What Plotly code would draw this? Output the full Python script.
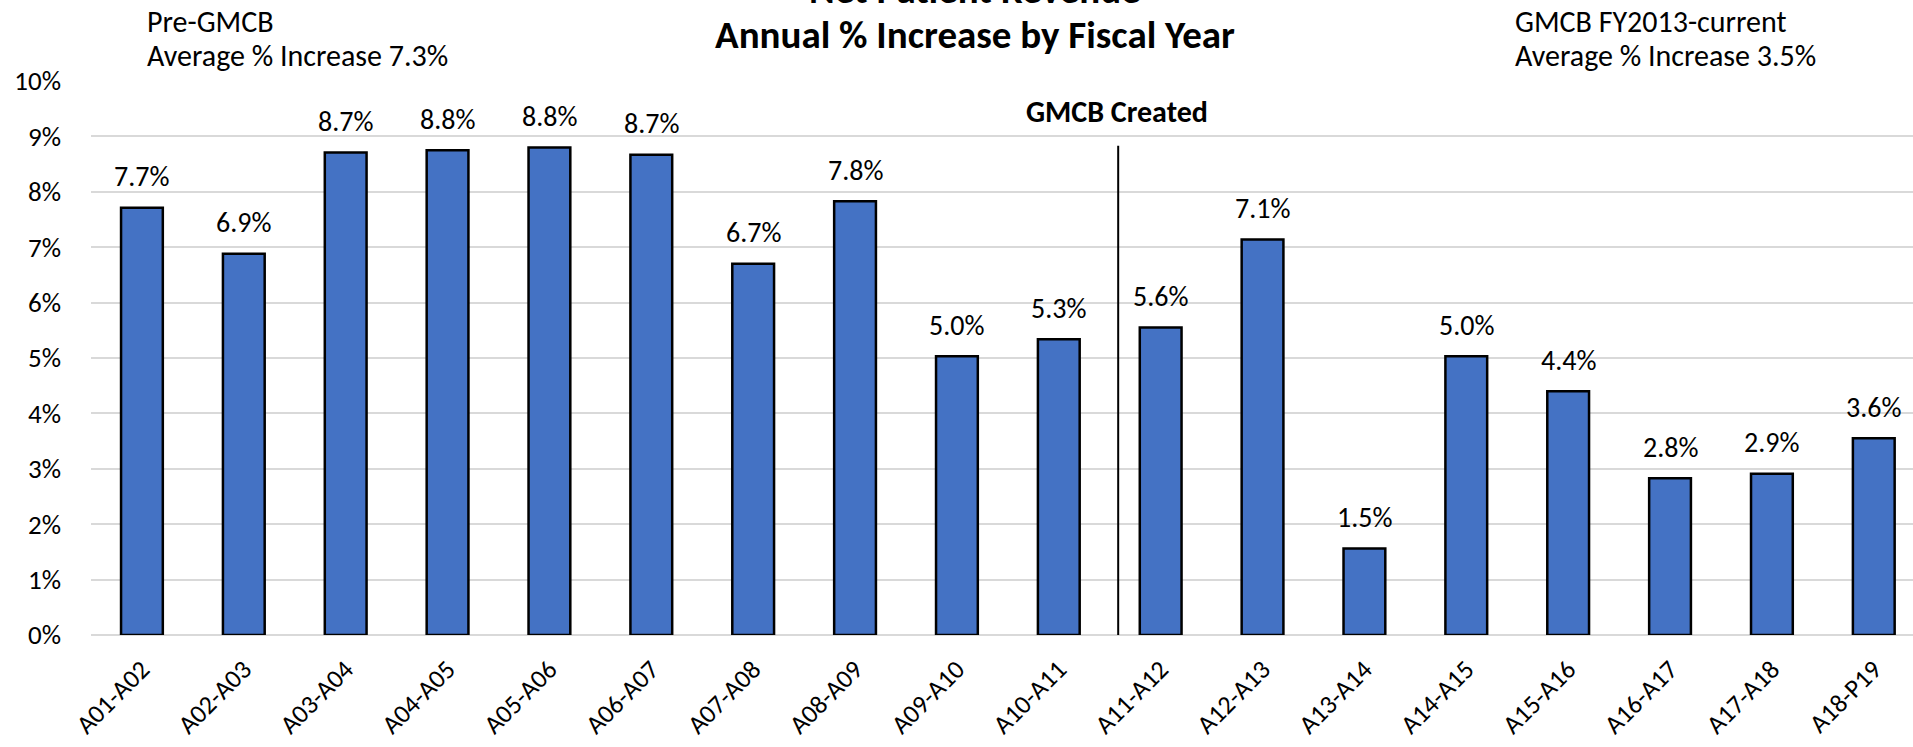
import plotly.graph_objects as go

categories = ["A01-A02", "A02-A03", "A03-A04", "A04-A05", "A05-A06", "A06-A07",
              "A07-A08", "A08-A09", "A09-A10", "A10-A11", "A11-A12", "A12-A13",
              "A13-A14", "A14-A15", "A15-A16", "A16-A17", "A17-A18", "A18-P19"]
values = [7.71, 6.88, 8.71, 8.75, 8.80, 8.67, 6.70, 7.83, 5.03, 5.34,
          5.55, 7.14, 1.56, 5.03, 4.40, 2.83, 2.91, 3.55]
labels = ["7.7%", "6.9%", "8.7%", "8.8%", "8.8%", "8.7%", "6.7%", "7.8%", "5.0%", "5.3%",
          "5.6%", "7.1%", "1.5%", "5.0%", "4.4%", "2.8%", "2.9%", "3.6%"]
y_ticks = [0, 1, 2, 3, 4, 5, 6, 7, 8, 9, 10]

FONT = "Calibri, Carlito, Lato, sans-serif"

fig = go.Figure()
fig.add_trace(go.Bar(
    x=categories, y=values, width=0.41,
    marker=dict(color="#4472C4", line=dict(color="#000000", width=2.5)),
    hoverinfo="x+y",
))

annotations = []
for c, v, t in zip(categories, values, labels):
    annotations.append(dict(x=c, y=v, xref="x", yref="y", text=t, showarrow=False,
                            yanchor="middle", yshift=31,
                            font=dict(family=FONT, size=28, color="#000000")))

def py(p):
    return (635 - p) / 554.0

def px(p):
    return (p - 91) / 1822.0

annotations += [
    dict(x=px(145), y=py(21), xref="paper", yref="paper", xanchor="left", yanchor="middle",
         text="Pre-GMCB", showarrow=False, font=dict(family=FONT, size=30, color="#000000")),
    dict(x=px(145), y=py(55), xref="paper", yref="paper", xanchor="left", yanchor="middle",
         text="Average % Increase 7.3%", showarrow=False, font=dict(family=FONT, size=30, color="#000000")),
    dict(x=px(1513), y=py(21), xref="paper", yref="paper", xanchor="left", yanchor="middle",
         text="GMCB FY2013-current", showarrow=False, font=dict(family=FONT, size=30, color="#000000")),
    dict(x=px(1513), y=py(55), xref="paper", yref="paper", xanchor="left", yanchor="middle",
         text="Average % Increase 3.5%", showarrow=False, font=dict(family=FONT, size=30, color="#000000")),
    dict(x=px(975), y=py(-11), xref="paper", yref="paper", xanchor="center", yanchor="middle",
         text="<b>Net Patient Revenue</b>", showarrow=False, font=dict(family=FONT, size=39, color="#000000")),
    dict(x=px(975), y=py(35), xref="paper", yref="paper", xanchor="center", yanchor="middle",
         text="<b>Annual % Increase by Fiscal Year</b>", showarrow=False, font=dict(family=FONT, size=39, color="#000000")),
    dict(x=9.573, y=9.45, xref="x", yref="y", xanchor="center", yanchor="middle",
         text="<b>GMCB Created</b>", showarrow=False, font=dict(family=FONT, size=30, color="#000000")),
]

fig.add_shape(type="line", xref="x", yref="y", x0=9.583, x1=9.583, y0=-0.05, y1=8.83,
              line=dict(color="#000000", width=2))

fig.update_layout(
    width=1913, height=747,
    margin=dict(l=91, r=0, t=81, b=112),
    paper_bgcolor="white", plot_bgcolor="white",
    showlegend=False,
    annotations=annotations,
    font=dict(family=FONT, color="#000000"),
    bargap=0.59,
)
fig.update_xaxes(
    type="category", range=[-0.5, 17.385], tickangle=-45,
    showgrid=False, showline=False, ticks="",
    tickfont=dict(family=FONT, size=26, color="#000000"),
    ticklabelstandoff=13,
)
fig.update_yaxes(
    range=[0, 10], tickvals=y_ticks, ticktext=[f"{v}%" for v in y_ticks],
    showgrid=True, gridcolor="#D9D9D9", gridwidth=2,
    zeroline=True, zerolinecolor="#D9D9D9", zerolinewidth=2,
    showline=False, ticks="",
    tickfont=dict(family=FONT, size=27, color="#000000"),
    ticklabelstandoff=29,
)

fig.write_html("out.html",
               config={"displayModeBar": False},
               post_script="document.body.style.margin='0';document.body.style.overflow='hidden';")
